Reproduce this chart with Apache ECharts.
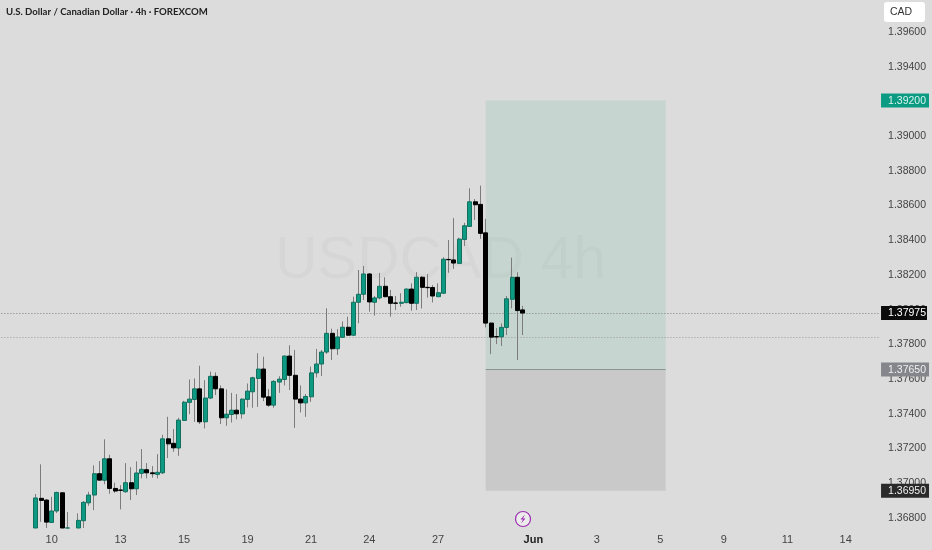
<!DOCTYPE html>
<html><head><meta charset="utf-8">
<style>html,body{margin:0;padding:0;background:#dcdcdc}#c{width:932px;height:550px}</style>
<script src="https://cdn.jsdelivr.net/npm/echarts@6/dist/echarts.min.js"></script>
</head><body><div id="c"></div>
<script>
const barCount = 166;
const leadingEmptyBars = 6;
// [open, close, low, high]; the pane cuts everything off at 1.36736
const candles = [
[1.36736,1.36909,1.36736,1.36932],[1.36907,1.36895,1.36772,1.37103],[1.36897,1.36770,1.36736,1.36903],[1.36768,1.36834,1.36766,1.36916],
[1.36834,1.36941,1.36822,1.36945],[1.36939,1.36736,1.36736,1.36943],[1.36736,1.36736,1.36736,1.36828],['-','-','-','-'],
[1.36736,1.36780,1.36736,1.36820],[1.36778,1.36884,1.36736,1.36891],[1.36881,1.36926,1.36864,1.36945],[1.36926,1.37049,1.36839,1.37097],
[1.37049,1.37012,1.37008,1.37122],[1.37011,1.37135,1.36988,1.37247],[1.37135,1.36964,1.36933,1.37158],[1.36964,1.36949,1.36939,1.36997],
[1.36955,1.36953,1.36843,1.36983],[1.36945,1.36997,1.36939,1.37110],[1.36997,1.36962,1.36897,1.37087],[1.36962,1.37053,1.36926,1.37120],
[1.37051,1.37074,1.37022,1.37191],[1.37072,1.37054,1.37022,1.37110],[1.37054,1.37049,1.37026,1.37093],[1.37045,1.37057,1.37022,1.37162],
[1.37054,1.37250,1.37047,1.37273],[1.37250,1.37221,1.37139,1.37377],[1.37224,1.37198,1.37175,1.37306],[1.37197,1.37358,1.37152,1.37371],
[1.37356,1.37461,1.37354,1.37469],[1.37460,1.37479,1.37392,1.37592],[1.37477,1.37538,1.37348,1.37598],[1.37538,1.37348,1.37335,1.37671],
[1.37348,1.37485,1.37310,1.37588],[1.37485,1.37610,1.37479,1.37637],[1.37610,1.37538,1.37502,1.37633],[1.37538,1.37371,1.37335,1.37558],
[1.37371,1.37392,1.37325,1.37535],[1.37390,1.37415,1.37344,1.37515],[1.37415,1.37394,1.37362,1.37508],[1.37394,1.37479,1.37366,1.37483],
[1.37477,1.37525,1.37431,1.37569],[1.37521,1.37602,1.37429,1.37608],[1.37598,1.37652,1.37434,1.37743],[1.37652,1.37490,1.37467,1.37723],
[1.37492,1.37444,1.37434,1.37536],[1.37444,1.37581,1.37429,1.37588],[1.37577,1.37594,1.37515,1.37611],[1.37592,1.37727,1.37558,1.37731],
[1.37727,1.37616,1.37531,1.37789],[1.37616,1.37479,1.37313,1.37762],[1.37479,1.37457,1.37402,1.37558],[1.37457,1.37494,1.37377,1.37508],
[1.37492,1.37630,1.37463,1.37666],[1.37630,1.37681,1.37604,1.37768],[1.37681,1.37750,1.37612,1.37762],[1.37750,1.37858,1.37739,1.38002],
[1.37858,1.37769,1.37704,1.37885],[1.37769,1.37837,1.37733,1.37882],[1.37835,1.37893,1.37831,1.37927],[1.37893,1.37847,1.37843,1.37954],
[1.37847,1.38037,1.37843,1.38069],[1.38037,1.38083,1.37916,1.38223],[1.38083,1.38200,1.38050,1.38246],[1.38200,1.38039,1.37983,1.38206],
[1.38037,1.38062,1.37960,1.38073],[1.38062,1.38129,1.38054,1.38206],[1.38129,1.38069,1.38066,1.38181],[1.38069,1.38031,1.37954,1.38108],
[1.38033,1.38031,1.37992,1.38073],[1.38031,1.38037,1.38011,1.38089],[1.38035,1.38113,1.38031,1.38117],[1.38113,1.38031,1.37988,1.38146],
[1.38031,1.38181,1.37992,1.38211],[1.38181,1.38123,1.38001,1.38188],[1.38123,1.38121,1.38064,1.38199],[1.38122,1.38073,1.38036,1.38136],
[1.38069,1.38092,1.38067,1.38146],[1.38089,1.38285,1.38085,1.38296],[1.38284,1.38282,1.38207,1.38396],[1.38281,1.38263,1.38229,1.38522],
[1.38261,1.38401,1.38258,1.38409],[1.38399,1.38478,1.38361,1.38495],[1.38474,1.38616,1.38472,1.38694],[1.38616,1.38599,1.38511,1.38632],
[1.38601,1.38434,1.38403,1.38709],[1.38437,1.37917,1.37892,1.38518],[1.37917,1.37836,1.37738,1.37920],[1.37839,1.37837,1.37796,1.37888],
[1.37838,1.37892,1.37785,1.37915],[1.37892,1.38057,1.37848,1.38073],[1.38054,1.38181,1.38002,1.38294],[1.38181,1.37989,1.37704,1.38210],
[1.37993,1.37975,1.37848,1.38016]
];
const xTickBars = [9,22,34,46,58,69,82,100,112,124,136,148,159];
const xTickLabels = ['10','13','15','19','21','24','27','Jun','3','5','9','11','14'];
const yTicks = [1.396,1.394,1.390,1.388,1.386,1.384,1.382,1.380,1.378,1.376,1.374,1.372,1.370,1.368];
const tagValues = [1.392,1.37975,1.3765,1.3695];
const tagStyles = ['green','last','entry','stop'];
const yMin = 1.36736, yMax = 1.39779;
const lastPrice = 1.37975, secondLine = 1.37837;
const targetPrice = 1.392, entryPrice = 1.3765, stopPrice = 1.3695;
const boxStartBar = 91, boxEndBar = 125;

const cats = Array.from({length:barCount},(_,i)=>String(i));
const pad = Array.from({length:leadingEmptyBars},()=>['-','-','-','-']);
const all = pad.concat(candles);
const bodies = all.map(c=>c[0]==='-'?c:[c[0],c[1],Math.min(c[0],c[1]),Math.max(c[0],c[1])]);
const fontF = '"Liberation Sans", Arial, sans-serif';
const GREEN='#0d9a82', GREENB='#13705f';
const boxA=String(boxStartBar), boxB=String(boxEndBar);
const tag = (color,bg,right)=>({color,backgroundColor:bg,fontSize:10.5,lineHeight:10,fontFamily:fontF,padding:[2,right,1,7]});

const chart = echarts.init(document.getElementById('c'),null,{renderer:'canvas'});
chart.setOption({
  animation:false,
  backgroundColor:'#dcdcdc',
  grid:{left:1.4,top:0,width:879.8,height:528,containLabel:false},
  xAxis:{type:'category',data:cats,boundaryGap:true,
    axisLine:{show:false},axisTick:{show:false},splitLine:{show:false},
    axisLabel:{show:true,margin:6,fontSize:11,fontFamily:fontF,color:'#444',
      interval:(i)=>xTickBars.includes(i),
      formatter:(v)=>{const k=xTickBars.indexOf(+v);const t=xTickLabels[k];return t==='Jun'?'{b|Jun}':t;},
      rich:{b:{fontWeight:'bold',fontSize:11,fontFamily:fontF,color:'#222'}}}},
  yAxis:{type:'value',position:'right',min:yMin,max:yMax,scale:true,
    axisLine:{show:false},axisTick:{show:false},splitLine:{show:false},
    axisLabel:{show:true,margin:1,fontSize:10.5,fontFamily:fontF,color:'#444',hideOverlap:false,
      showMinLabel:true,showMaxLabel:true,
      customValues:yTicks.concat(tagValues),
      formatter:(v)=>{const k=tagValues.findIndex(t=>Math.abs(t-v)<1e-7);
        const s=v.toFixed(5);return k>=0?`{${tagStyles[k]}|${s}}`:`{n|${s}}`;},
      rich:{
        n:{color:'#444',fontSize:10.5,fontFamily:fontF,padding:[3,4,1,7]},
        green:tag('#d8f3ec','#0a9b82',3),
        last:tag('#fff','#0b0b0b',1),
        entry:tag('#f0f0f0','#85858c',3),
        stop:tag('#f0f0f0','#2a2a2a',3)
      }}},
  series:[
    {type:'candlestick',name:'wick',data:all,barWidth:1,clip:true,z:3,
      itemStyle:{color:'#7c7c7c',color0:'#7c7c7c',borderColor:'#7c7c7c',borderColor0:'#7c7c7c',borderWidth:1},
      markArea:{silent:true,z:1,data:[
        [{xAxis:boxA,yAxis:targetPrice,itemStyle:{color:'rgba(8,160,110,0.1)'}},{xAxis:boxB,yAxis:entryPrice}],
        [{xAxis:boxA,yAxis:entryPrice,itemStyle:{color:'rgba(120,120,120,0.19)'}},{xAxis:boxB,yAxis:stopPrice}]
      ]},
      markLine:{silent:true,symbol:'none',z:2,precision:5,label:{show:false},data:[
        {yAxis:lastPrice,lineStyle:{type:[1,2],color:'#7d7d7d',width:1}},
        {yAxis:secondLine,lineStyle:{type:[1,2],color:'#9a9a9a',width:1}},
        [{xAxis:boxA,yAxis:entryPrice,lineStyle:{type:'solid',color:'#8a9492',width:1}},{xAxis:boxB,yAxis:entryPrice}]
      ]}},
    {type:'candlestick',name:'body',data:bodies,barWidth:4.5,clip:true,z:4,
      itemStyle:{color:GREEN,color0:'#000',borderColor:GREENB,borderColor0:'#000',borderWidth:1}}
  ],
  graphic:[
    {type:'text',z:0,left:275,top:232,style:{text:'USDCAD 4h',fontSize:59,fontFamily:fontF,fill:'rgba(0,0,0,0.022)'}},
    {type:'text',z:10,left:6,top:7,style:{text:'U.S. Dollar / Canadian Dollar · 4h · FOREXCOM',fontSize:9.6,fontWeight:'bold',fontFamily:'Lato, sans-serif',fill:'#222'}},
    {type:'rect',z:10,shape:{x:884,y:2,width:41,height:20,r:3},style:{fill:'#ffffff'}},
    {type:'text',z:11,left:890,top:7,style:{text:'CAD',fontSize:10.5,fontFamily:fontF,fill:'#333'}},
    {type:'circle',z:10,shape:{cx:523,cy:519,r:7.5},style:{fill:'#ececec',stroke:'#9c2fb0',lineWidth:1.2}},
    {type:'polygon',z:11,shape:{points:[[525,514.5],[520.5,519.5],[523,519.5],[521,523.5],[525.5,518.5],[523,518.5]]},style:{fill:'#9c2fb0'}}
  ]
});
</script></body></html>
